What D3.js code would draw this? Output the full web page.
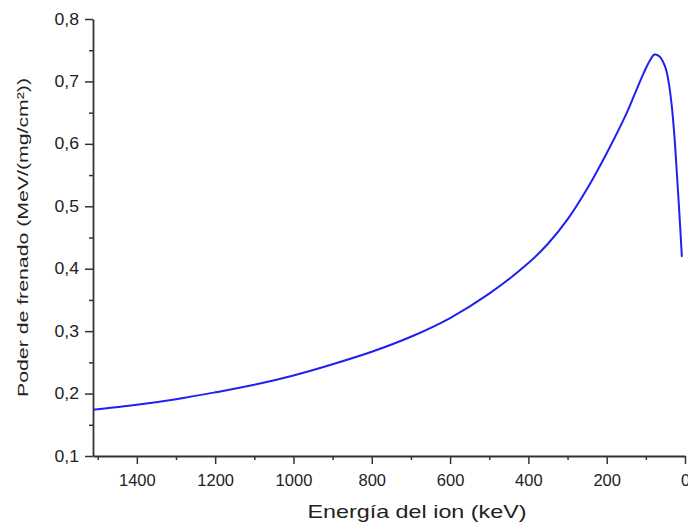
<!DOCTYPE html>
<html>
<head>
<meta charset="utf-8">
<script src="https://cdn.jsdelivr.net/npm/d3@7"></script>
<style>
  html, body { margin: 0; padding: 0; background: #fff; }
  #chart { width: 688px; height: 522px; }
  text { font-family: "Liberation Sans", Arial, sans-serif; fill: #222; }
</style>
</head>
<body>
<div id="chart"></div>
<script>
// Energy of the ion (keV) and stopping power (MeV/(mg/cm2))
const energy = [1512, 1400, 1300, 1200, 1100, 1000, 900, 800, 700, 600, 500, 400, 350, 300, 250, 200, 150, 125, 105, 90, 78, 65, 51, 42, 34, 27, 21, 14, 8];
const power  = [0.174, 0.182, 0.191, 0.202, 0.214, 0.229, 0.247, 0.267, 0.291, 0.321, 0.360, 0.409, 0.440, 0.479, 0.528, 0.585, 0.648, 0.685, 0.714, 0.733, 0.743, 0.740, 0.724, 0.700, 0.662, 0.612, 0.555, 0.485, 0.419];

const xTicks = [1400, 1200, 1000, 800, 600, 400, 200, 0];
const xMinor = [1500, 1300, 1100, 900, 700, 500, 300, 100];
const yTicks = [0.1, 0.2, 0.3, 0.4, 0.5, 0.6, 0.7, 0.8];
const yMinor = [0.15, 0.25, 0.35, 0.45, 0.55, 0.65, 0.75];

const xLabel = "Energía del ion (keV)";
const yLabel = "Poder de frenado (MeV/(mg/cm²))";

const width = 688, height = 522;
const margin = { top: 19, right: 3, bottom: 66, left: 93 };

const svg = d3.select("#chart")
    .append("svg")
    .attr("width", width)
    .attr("height", height);

// x runs backwards: high energy on the left
const x = d3.scaleLinear()
    .domain([1512, 0])
    .range([margin.left, width - margin.right]);

const y = d3.scaleLinear()
    .domain([0.1, 0.8])
    .range([height - margin.bottom, margin.top]);

const comma = d => d3.format(".1f")(d).replace(".", ",");

// minor ticks first, so the main axis draws over them
svg.append("g")
    .attr("transform", `translate(0,${y(0.1)})`)
    .call(d3.axisBottom(x).tickValues(xMinor).tickSize(4).tickFormat(""))
    .call(g => g.select(".domain").remove())
    .call(g => g.selectAll("line").attr("stroke", "#333").attr("stroke-width", 1.5));

svg.append("g")
    .attr("transform", `translate(${x(1512)},0)`)
    .call(d3.axisLeft(y).tickValues(yMinor).tickSize(4).tickFormat(""))
    .call(g => g.select(".domain").remove())
    .call(g => g.selectAll("line").attr("stroke", "#333").attr("stroke-width", 1.5));

// main axes
const xAxis = svg.append("g")
    .attr("transform", `translate(0,${y(0.1)})`)
    .call(d3.axisBottom(x).tickValues(xTicks).tickFormat(d3.format("d"))
        .tickSize(8).tickSizeOuter(0).tickPadding(10));
xAxis.select(".domain").attr("stroke", "#333").attr("stroke-width", 1.8);
xAxis.selectAll("line").attr("stroke", "#333").attr("stroke-width", 1.5);
xAxis.selectAll("text")
    .style("font-size", "16.5px")
    .style("fill", "#222");

const yAxis = svg.append("g")
    .attr("transform", `translate(${x(1512)},0)`)
    .call(d3.axisLeft(y).tickValues(yTicks).tickFormat(comma).tickSize(8).tickSizeOuter(0).tickPadding(6));
yAxis.select(".domain").attr("stroke", "#333").attr("stroke-width", 1.8);
yAxis.selectAll("line").attr("stroke", "#333").attr("stroke-width", 1.5);
yAxis.selectAll("text")
    .style("font-size", "16px")
    .style("fill", "#222")
    .attr("textLength", 24.5)
    .attr("lengthAdjust", "spacingAndGlyphs");

// the curve
const points = energy.map((e, i) => ({ e: e, p: power[i] }));
const line = d3.line()
    .x(d => x(d.e))
    .y(d => y(d.p))
    .curve(d3.curveCatmullRom.alpha(0.5));

svg.append("path")
    .datum(points)
    .attr("fill", "none")
    .attr("stroke", "#2020f0")
    .attr("stroke-width", 2)
    .attr("d", line);

// axis titles
svg.append("text")
    .attr("x", 417)
    .attr("y", 518)
    .attr("text-anchor", "middle")
    .attr("textLength", 219)
    .attr("lengthAdjust", "spacingAndGlyphs")
    .style("font-size", "18.5px")
    .text(xLabel);

svg.append("text")
    .attr("transform", "translate(28,237.5) rotate(-90)")
    .attr("text-anchor", "middle")
    .attr("textLength", 319)
    .attr("lengthAdjust", "spacingAndGlyphs")
    .style("font-size", "15.5px")
    .text(yLabel);
</script>
</body>
</html>
